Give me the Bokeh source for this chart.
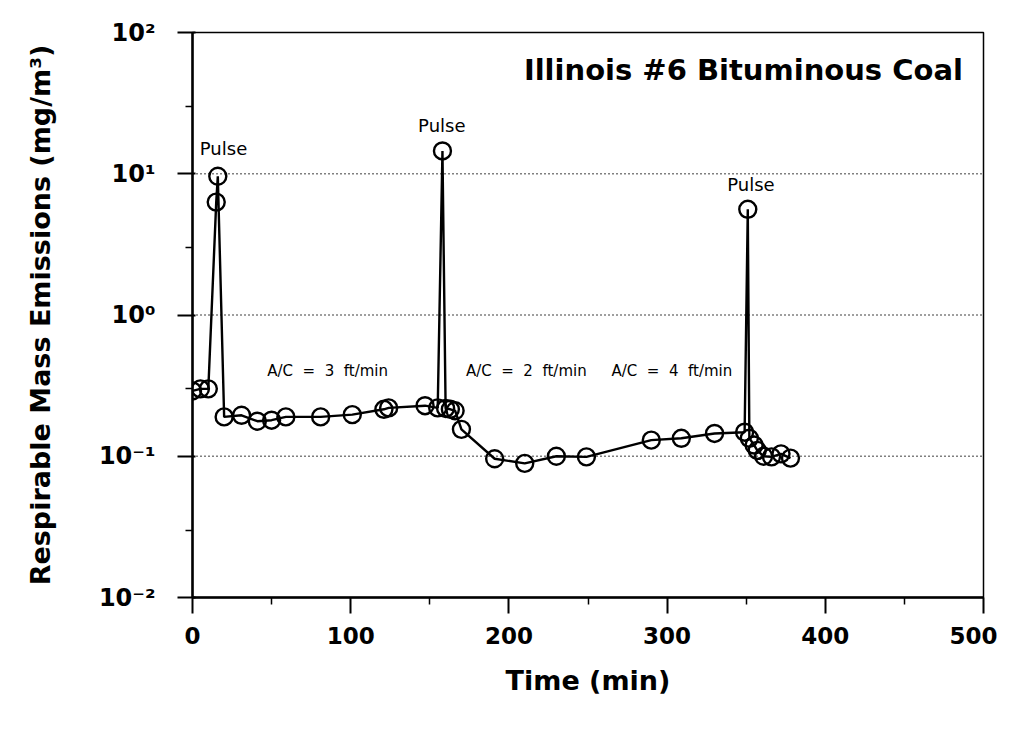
from bokeh.plotting import figure
from bokeh.models import (FixedTicker, CustomJSTickFormatter, Label, Span)
from bokeh.embed import file_html
from bokeh.resources import INLINE

# ---- data ----
time_min = [0, 5, 10, 15, 16, 20, 31, 41, 50, 59, 81, 101, 121, 124, 147, 155,
            158, 160, 163, 166, 170, 191, 210, 230, 249, 290, 309, 330, 349,
            351, 352, 355, 357, 361, 366, 372, 378]
emissions = [0.29, 0.30, 0.30, 6.3, 9.6, 0.19, 0.195, 0.177, 0.18, 0.19, 0.19,
             0.197, 0.215, 0.22, 0.228, 0.22, 14.5, 0.218, 0.215, 0.21, 0.155,
             0.096, 0.089, 0.10, 0.099, 0.13, 0.134, 0.145, 0.148, 5.6, 0.134,
             0.12, 0.11, 0.10, 0.099, 0.104, 0.097]

x_ticks = [0, 100, 200, 300, 400, 500]
x_minor = [50, 150, 250, 350, 450]
y_ticks = [0.01, 0.1, 1, 10, 100]
y_minor = [0.03, 0.3, 3, 30]
grid_levels = [0.1, 1, 10]

pulse_labels = [("Pulse", 19.6, 15.1), ("Pulse", 157.6, 22.0), ("Pulse", 353, 8.4)]
NB = "\u00A0"
ac_labels = [(f"A/C{NB} ={NB} 3{NB} ft/min", 85.4, 0.40),
             (f"A/C{NB} ={NB} 2{NB} ft/min", 211, 0.40),
             (f"A/C{NB} ={NB} 4{NB} ft/min", 303, 0.40)]
title_text = "Illinois #6 Bituminous Coal"

FONT = "DejaVu Sans"

p = figure(width=997, height=715, y_axis_type="log", x_range=(0, 500),
           y_range=(0.01, 100), output_backend="svg", toolbar_location=None,
           min_border_left=192, min_border_right=14, min_border_top=32,
           min_border_bottom=118)

p.outline_line_color = "black"
p.outline_line_width = 1.5
p.xgrid.visible = False
p.ygrid.visible = False
p.background_fill_color = "white"
p.border_fill_color = "white"

for lv in grid_levels:
    p.add_layout(Span(location=lv, dimension="width", line_color="black",
                      line_width=1.5, line_dash="1 3"))

p.line(time_min, emissions, line_color="black", line_width=2.4)
p.scatter(time_min, emissions, marker="circle", size=17, fill_alpha=0,
          line_color="black", line_width=2.4)

# axes
xa = p.xaxis[0]
xa.ticker = FixedTicker(ticks=x_ticks, minor_ticks=x_minor)
xa.axis_line_width = 2.5
xa.major_tick_out = 16
xa.major_tick_in = 0
xa.minor_tick_out = 7
xa.minor_tick_in = 0
xa.major_tick_line_width = 2
xa.minor_tick_line_width = 1.5
xa.major_label_text_font = FONT
xa.major_label_text_font_style = "bold"
xa.major_label_text_font_size = "23px"
xa.major_label_text_color = "black"
xa.major_label_standoff = 13
xa.axis_label = "Time (min)"
xa.axis_label_text_font = FONT
xa.axis_label_text_font_style = "bold"
xa.axis_label_text_font_size = "27px"
xa.axis_label_text_color = "black"
xa.axis_label_standoff = 18

ya = p.yaxis[0]
ya.ticker = FixedTicker(ticks=y_ticks, minor_ticks=y_minor)
ya.formatter = CustomJSTickFormatter(code="""
const e = Math.round(Math.log10(tick));
const sup = {'-':'\u207B','0':'\u2070','1':'\u00B9','2':'\u00B2','3':'\u00B3'};
return '10' + String(e).split('').map(c => sup[c]).join('');
""")
ya.axis_line_width = 2.5
ya.major_tick_out = 15
ya.major_tick_in = 3
ya.minor_tick_out = 7
ya.minor_tick_in = 0
ya.major_tick_line_width = 2
ya.minor_tick_line_width = 1.5
ya.major_label_text_font = FONT
ya.major_label_text_font_style = "bold"
ya.major_label_text_font_size = "24px"
ya.major_label_text_color = "black"
ya.major_label_standoff = 22
ya.axis_label = "Respirable Mass Emissions (mg/m\u00B3)"
ya.axis_label_text_font = FONT
ya.axis_label_text_font_style = "bold"
ya.axis_label_text_font_size = "27px"
ya.axis_label_text_color = "black"
ya.axis_label_standoff = 40

for txt, x, y in pulse_labels:
    p.add_layout(Label(x=x, y=y, text=txt, text_align="center",
                       text_baseline="middle", text_font=FONT,
                       text_font_size="18px", text_color="black"))
for txt, x, y in ac_labels:
    p.add_layout(Label(x=x, y=y, text=txt, text_align="center",
                       text_baseline="middle", text_font=FONT,
                       text_font_size="15px", text_color="black"))

p.add_layout(Label(x=487, y=54, text=title_text, text_align="right",
                   text_baseline="middle", text_font=FONT,
                   text_font_style="bold", text_font_size="29px",
                   text_color="black"))

open("out.html", "w").write(file_html(p, INLINE))
